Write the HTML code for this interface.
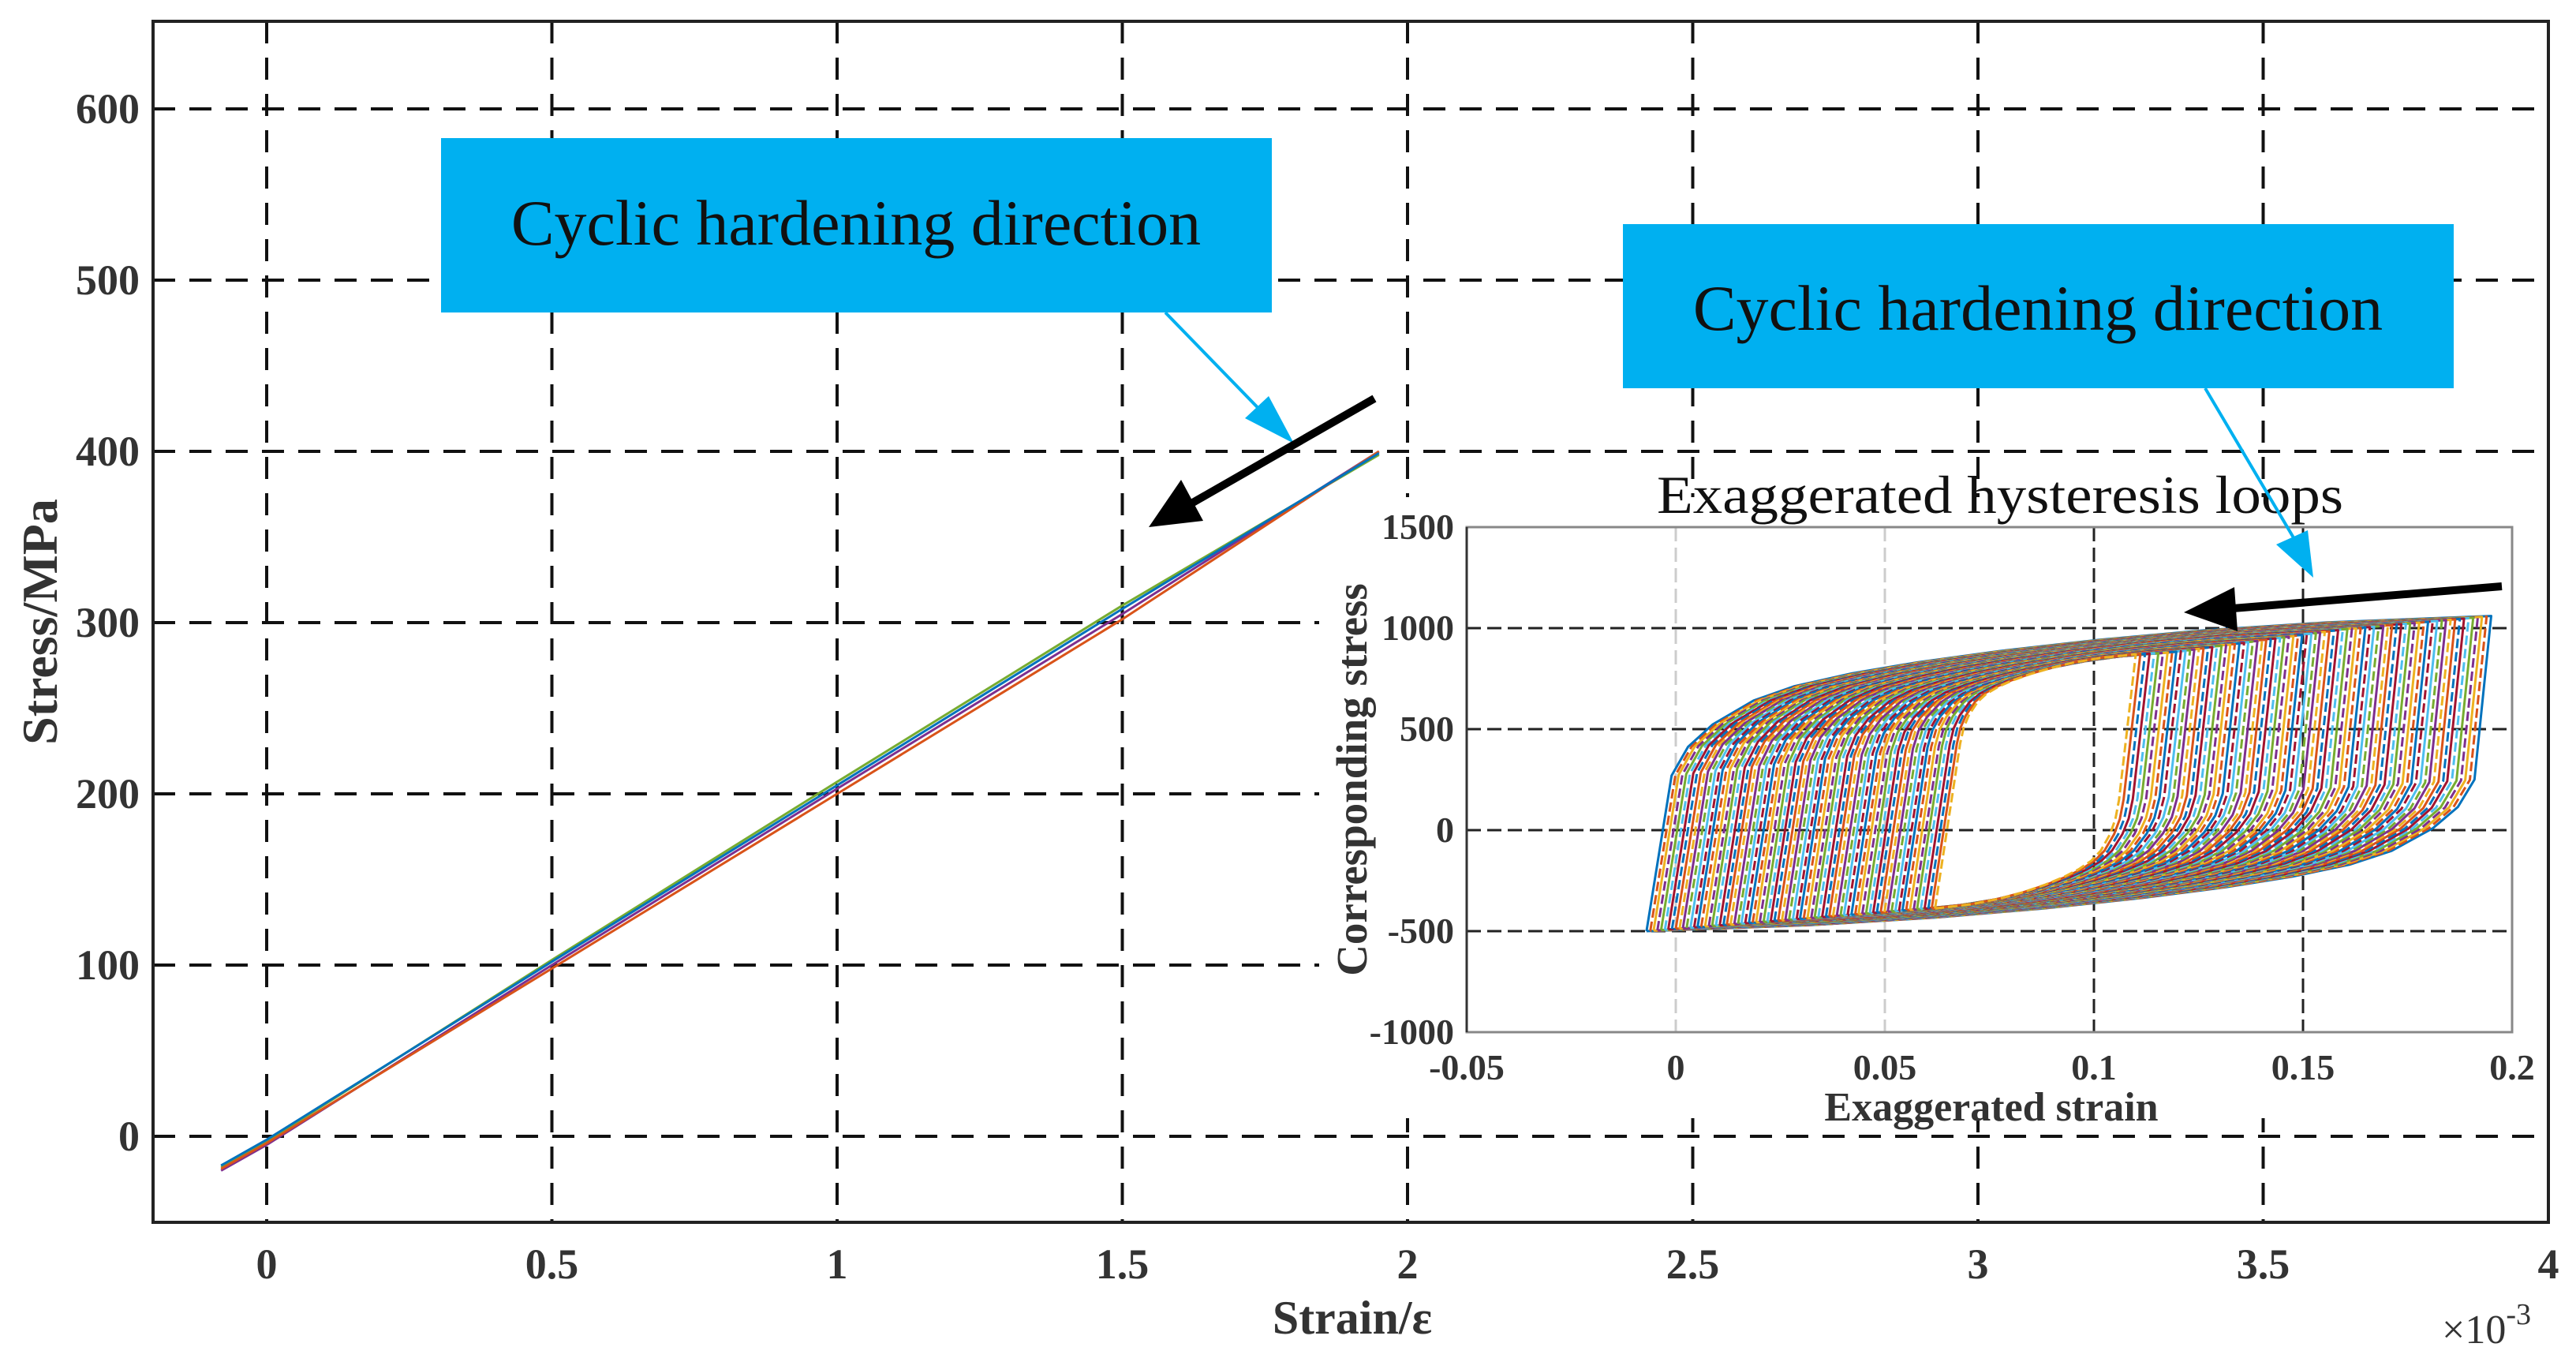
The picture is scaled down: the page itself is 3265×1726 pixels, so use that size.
<!DOCTYPE html>
<html><head><meta charset="utf-8">
<style>
html,body{margin:0;padding:0;background:#fff;}
svg{display:block;}
text{font-family:"Liberation Serif",serif;}
</style></head>
<body>
<svg id="chart" width="3265" height="1726" viewBox="0 0 3265 1726" xmlns="http://www.w3.org/2000/svg">
<rect width="3265" height="1726" fill="#fff"/>
<g id="main-grid"></g>
<rect x="1672" y="630" width="1552" height="787" fill="#fff"/>
<g id="main-curves"></g>
<rect x="194" y="27" width="3036" height="1522" fill="none" stroke="#222" stroke-width="4"/>
<g id="main-ticks"></g>
<text x="1714" y="1690" font-size="60" font-weight="bold" text-anchor="middle" fill="#333">Strain/ε</text>
<text transform="translate(72,788) rotate(-90)" font-size="64" font-weight="bold" text-anchor="middle" fill="#333">Stress/MPa</text>
<text x="3095" y="1702" font-size="52" fill="#333">×10<tspan dy="-24" font-size="38">-3</tspan></text>

<g id="inset-grid"></g>
<g id="inset-loops"></g>
<rect x="1859" y="668" width="1325" height="640" fill="none" stroke="#888" stroke-width="3"/>
<line x1="1859" y1="668" x2="1859" y2="1308" stroke="#333" stroke-width="3"/>
<g id="inset-ticks"></g>
<text x="2535" y="650" font-size="68" text-anchor="middle" fill="#111" textLength="870" lengthAdjust="spacingAndGlyphs">Exaggerated hysteresis loops</text>
<text x="2524" y="1420" font-size="52" font-weight="bold" text-anchor="middle" fill="#333">Exaggerated strain</text>
<text transform="translate(1732,988) rotate(-90)" font-size="55" font-weight="bold" text-anchor="middle" fill="#333">Corresponding stress</text>

<rect x="559" y="175" width="1053" height="221" fill="#00b0f0"/>
<text x="1085" y="310" font-size="82" text-anchor="middle" fill="#111">Cyclic hardening direction</text>
<rect x="2057" y="284" width="1053" height="208" fill="#00b0f0"/>
<text x="2583" y="418" font-size="82" text-anchor="middle" fill="#111">Cyclic hardening direction</text>

<g>
<line x1="1477" y1="396" x2="1615" y2="538" stroke="#00b0f0" stroke-width="4"/>
<polygon points="1640,562 1578,530 1608,502" fill="#00b0f0"/>
</g>
<g>
<line x1="2795" y1="492" x2="2918" y2="700" stroke="#00b0f0" stroke-width="4"/>
<polygon points="2932,732 2885,690 2925,672" fill="#00b0f0"/>
</g>
<g>
<line x1="1742" y1="505" x2="1510" y2="638" stroke="#000" stroke-width="10"/>
<polygon points="1456,668 1497,608 1525,660" fill="#000"/>
</g>
<g>
<line x1="3171" y1="743" x2="2830" y2="771" stroke="#000" stroke-width="10"/>
<polygon points="2768,776 2832,744 2836,800" fill="#000"/>
</g>
</svg>
<script>
// ---- main chart data ----
const mainXTicks = [0, 0.5, 1, 1.5, 2, 2.5, 3, 3.5, 4];
const mainXTickLabels = ["0","0.5","1","1.5","2","2.5","3","3.5","4"];
const mainYTicks = [0, 100, 200, 300, 400, 500, 600];
const mainYTickLabels = ["0","100","200","300","400","500","600"];
const mainStrain = [-0.08, 0, 0.5, 1, 1.5, 1.95];
const mainStressA = [-20, -5, 100, 203, 305, 400];
const mainStressB = [-18, -3, 103, 207, 310, 398];
const mainStressC = [-19, -4, 98, 200, 302, 400];
const mainStressD = [-17, -2, 102, 205, 308, 399];
// ---- inset data ----
const insetXTicks = [-0.05, 0, 0.05, 0.1, 0.15, 0.2];
const insetXTickLabels = ["-0.05","0","0.05","0.1","0.15","0.2"];
const insetYTicks = [-1000, -500, 0, 500, 1000, 1500];
const insetYTickLabels = ["-1000","-500","0","500","1000","1500"];
const cycleLeft = [-0.0070,-0.0061,-0.0053,-0.0044,-0.0035,-0.0026,-0.0018,-0.0009,0.0000,0.0009,
0.0017,0.0026,0.0035,0.0044,0.0052,0.0061,0.0070,0.0079,0.0087,0.0096,
0.0105,0.0114,0.0122,0.0131,0.0140,0.0149,0.0157,0.0166,0.0175,0.0184,
0.0192,0.0201,0.0210,0.0219,0.0227,0.0236,0.0245,0.0254,0.0262,0.0271,
0.0280,0.0289,0.0297,0.0306,0.0315,0.0324,0.0332,0.0341,0.0350,0.0359,
0.0367,0.0376,0.0385,0.0394,0.0402,0.0411,0.0420,0.0429,0.0437,0.0446,
0.0455,0.0464,0.0472,0.0481,0.0490,0.0499,0.0507,0.0516,0.0525,0.0534,
0.0542,0.0551,0.0560,0.0569,0.0577,0.0586,0.0595,0.0604,0.0612,0.0620];
const cycleRight = [0.1950,0.1939,0.1928,0.1918,0.1907,0.1896,0.1885,0.1875,0.1864,0.1853,
0.1842,0.1832,0.1821,0.1810,0.1799,0.1789,0.1778,0.1767,0.1756,0.1746,
0.1735,0.1724,0.1713,0.1703,0.1692,0.1681,0.1670,0.1660,0.1649,0.1638,
0.1627,0.1617,0.1606,0.1595,0.1584,0.1574,0.1563,0.1552,0.1541,0.1531,
0.1520,0.1509,0.1498,0.1488,0.1477,0.1466,0.1455,0.1445,0.1434,0.1423,
0.1412,0.1402,0.1391,0.1380,0.1369,0.1359,0.1348,0.1337,0.1326,0.1316,
0.1305,0.1294,0.1283,0.1273,0.1262,0.1251,0.1240,0.1230,0.1219,0.1208,
0.1197,0.1187,0.1176,0.1165,0.1154,0.1144,0.1133,0.1122,0.1111,0.1100];
const cycleTop = [1060,1057,1055,1053,1051,1049,1047,1045,1043,1041,
1039,1037,1035,1033,1031,1029,1027,1025,1023,1021,
1019,1017,1015,1013,1011,1009,1007,1005,1003,1001,
999,997,995,993,990,987,984,981,978,975,
972,969,966,963,960,957,954,951,948,945,
942,939,936,933,930,927,924,921,918,915,
912,909,906,903,900,897,894,891,888,885,
883,881,879,877,876,875,874,873,872,870];
const cycleBottom = [-500,-499,-497,-496,-494,-493,-491,-490,-488,-487,
-486,-484,-483,-481,-480,-478,-477,-475,-474,-472,
-471,-470,-468,-467,-465,-464,-462,-461,-459,-458,
-456,-455,-454,-452,-451,-449,-448,-446,-445,-443,
-442,-440,-439,-438,-436,-435,-433,-432,-430,-429,
-427,-426,-424,-423,-422,-420,-419,-417,-416,-414,
-413,-411,-410,-408,-407,-406,-404,-403,-401,-400,
-398,-397,-395,-394,-392,-391,-390,-389,-388,-388];
const cycleKinkLeft = [270,272,274,276,278,280,282,284,286,288,
290,292,294,296,298,300,302,304,306,308,
310,312,314,316,318,320,322,324,326,328,
330,332,334,336,338,340,342,344,346,348,
350,352,354,356,358,360,362,364,366,368,
370,372,374,376,378,380,382,384,386,388,
390,392,394,396,398,400,402,404,406,408,
410,412,414,416,418,420,422,424,426,428];
const cycleKinkRight = [250,249,247,246,245,244,242,241,240,239,
237,236,235,234,232,231,230,229,227,226,
225,224,222,221,220,219,217,216,215,214,
212,211,210,209,207,206,205,204,202,201,
200,199,197,196,195,194,192,191,190,189,
187,186,185,184,182,181,180,179,177,176,
175,174,172,171,170,169,167,166,165,164,
162,161,160,159,157,156,155,154,152,150];
const shapeF = [0,0.02,0.05,0.1,0.15,0.22,0.3,0.4,0.52,0.65,0.8,1];
const shapeG = [0,0.18,0.32,0.47,0.56,0.64,0.71,0.78,0.85,0.91,0.96,1];

const NS = "http://www.w3.org/2000/svg";
function mk(tag, attrs, parent){const e=document.createElementNS(NS,tag);for(const k in attrs)e.setAttribute(k,attrs[k]);parent.appendChild(e);return e;}
const mx = v => 338 + v*723;
const my = v => 1440 - v*2.17;
const ix = v => 1859 + (v+0.05)/0.25*1325;
const iy = v => 1308 - (v+1000)/2500*640;

const mg = document.getElementById('main-grid');
mainXTicks.forEach(t=>{
  const l = mk('line',{x1:mx(t),x2:mx(t),y1:27,y2:1549,stroke:'#111','stroke-width':4,'stroke-dasharray':'28 18'},mg);
  
  
});
mainYTicks.forEach(t=>{
  const l = mk('line',{x1:194,x2:3230,y1:my(t),y2:my(t),stroke:'#111','stroke-width':4,'stroke-dasharray':'28 18'},mg);
  
  
});
const mt = document.getElementById('main-ticks');
mainXTicks.forEach((t,i)=>{
  const e = mk('text',{x:mx(t),y:1620,'font-size':54,'font-weight':'bold','text-anchor':'middle',fill:'#333'},mt);
  e.textContent = mainXTickLabels[i];
  
  
});
mainYTicks.forEach((t,i)=>{
  const e = mk('text',{x:177,y:my(t)+18,'font-size':54,'font-weight':'bold','text-anchor':'end',fill:'#333'},mt);
  e.textContent = mainYTickLabels[i];
  
  
});
const mc = document.getElementById('main-curves');
const mainSeries = [[mainStressA,'#7E2F8E'],[mainStressB,'#77AC30'],[mainStressC,'#D95319'],[mainStressD,'#0072BD']];
mainSeries.forEach(([s,c])=>{
  const d = mainStrain.map((x,i)=>(i?'L':'M')+mx(x).toFixed(1)+' '+my(s[i]).toFixed(1)).join(' ');
  const p = mk('path',{d:d,fill:'none',stroke:c,'stroke-width':3},mc);
  
  
});

const ig = document.getElementById('inset-grid');
insetXTicks.forEach(t=>{
  if(t===-0.05||t===0.2) return;
  const light = (t===0||t===0.05);
  const l = mk('line',{x1:ix(t),x2:ix(t),y1:668,y2:1308,stroke:light?'#ccc':'#222','stroke-width':3,'stroke-dasharray':'18 8'},ig);
  
  
});
insetYTicks.forEach(t=>{
  if(t===-1000||t===1500) return;
  const l = mk('line',{x1:1859,x2:3184,y1:iy(t),y2:iy(t),stroke:'#222','stroke-width':3,'stroke-dasharray':'18 8'},ig);
  
  
});
const it = document.getElementById('inset-ticks');
insetXTicks.forEach((t,i)=>{
  const e = mk('text',{x:ix(t),y:1368,'font-size':46,'font-weight':'bold','text-anchor':'middle',fill:'#333'},it);
  e.textContent = insetXTickLabels[i];
  
  
});
insetYTicks.forEach((t,i)=>{
  const e = mk('text',{x:1843,y:iy(t)+15,'font-size':46,'font-weight':'bold','text-anchor':'end',fill:'#333'},it);
  e.textContent = insetYTickLabels[i];
  
  
});
const il = document.getElementById('inset-loops');
const colors = ['#0072BD','#D95319','#EDB120','#7E2F8E','#77AC30','#4DBEEE','#A2142F'];
const nCycles = Math.min(cycleLeft.length, cycleRight.length, cycleTop.length, cycleBottom.length, cycleKinkLeft.length, cycleKinkRight.length);
for(let k=0;k<nCycles;k++){
  const L = cycleLeft[k], R = cycleRight[k], T = cycleTop[k], B = cycleBottom[k];
  const KL = cycleKinkLeft[k], KR = cycleKinkRight[k];
  const pts = [[L,B]];
  const ul = L+0.006, span = R-ul;
  shapeF.forEach((f,j)=>pts.push([ul+span*f, KL+(T-KL)*shapeG[j]]));
  const rr = R-0.004, span2 = rr-L;
  shapeF.forEach((f,j)=>pts.push([rr-span2*f, KR-(KR-B)*shapeG[j]]));
  const d = pts.map((p,i)=>(i?'L':'M')+ix(p[0]).toFixed(1)+' '+iy(p[1]).toFixed(1)).join(' ');
  const p = mk('path',{d:d,fill:'none',stroke:colors[k%7],'stroke-width':3,'stroke-linejoin':'round'},il);
  if(k%2===1) p.setAttribute('stroke-dasharray','12 5');
  
  
}
</script>
</body></html>
